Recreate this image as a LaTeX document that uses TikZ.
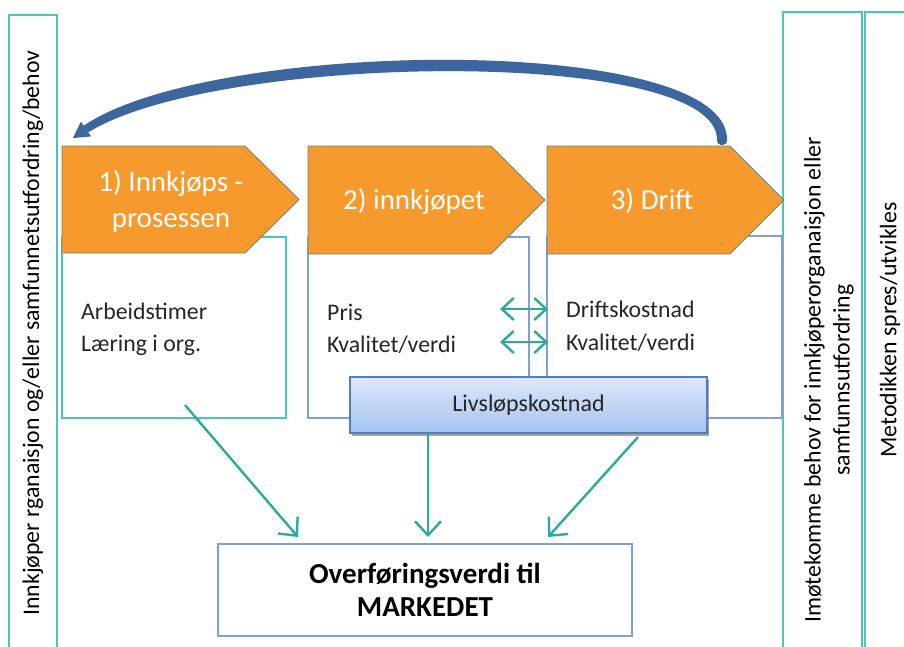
\documentclass[tikz,border=0pt]{standalone}
\usepackage{fontspec}
\setmainfont{Carlito}
\usetikzlibrary{arrows.meta,shadows}
\definecolor{chevor}{HTML}{F69A2E}
\definecolor{chevln}{HTML}{5E8A8C}
\definecolor{tealb}{HTML}{4CC3BE}
\definecolor{blueb}{HTML}{7EA0D4}
\definecolor{arrt}{HTML}{2BAA9E}
\definecolor{lvtop}{HTML}{DDE8FA}
\definecolor{lvbot}{HTML}{A6C3F2}
\definecolor{lvln}{HTML}{4F7FBF}
\definecolor{curv}{HTML}{3C669E}
\tikzset{
  tealbox/.style={draw=tealb,line width=1.3pt},
  bluebox/.style={draw=blueb,line width=1.2pt},
  chev/.style={fill=chevor,draw=chevln,line width=0.9pt},
  chevtxt/.style={text=white,font=\fontsize{29}{36}\selectfont,align=center},
  bodytxt/.style={text=black!85,font=\fontsize{23.8}{28}\selectfont,anchor=west,inner sep=0pt},
  sidetxt/.style={text=black,font=\fontsize{23.8}{29}\selectfont,align=center,rotate=90},
  tarrow/.style={draw=arrt,line width=2.4pt,-{Straight Barb[length=14pt,width=26pt,line width=2.4pt]}},
  darrow/.style={draw=arrt,line width=2.4pt,{Straight Barb[length=12pt,width=22pt,line width=2.4pt]}-{Straight Barb[length=12pt,width=22pt,line width=2.4pt]}}
}
\begin{document}
\begin{tikzpicture}[x=1pt,y=-1pt]
\useasboundingbox (0,0) rectangle (904,646);
% side columns
\draw[tealbox] (9,15) rectangle (57,652);
\draw[tealbox] (783,12) rectangle (862,652);
\draw[tealbox] (865,12) rectangle (912,652);
\node[sidetxt] (lefttxt) at (33,333) {Innkjøper rganaisjon og/eller samfunnetsutfordring/behov};
\node[sidetxt] (righttxt) at (829,380) {Imøtekomme behov for innkjøperorganaisjon eller\\samfunnsutfordring};
\node[sidetxt] (metotxt) at (890,330) {Metodikken spres/utvikles};
% content boxes
\draw[tealbox,fill=white] (62,237) rectangle (286,418);
\draw[bluebox,fill=white] (308,237) rectangle (529,418);
\draw[bluebox,fill=white] (547,236) rectangle (782,418);
% chevrons
\draw[chev] (62,146) -- (245,146) -- (299,199.5) -- (245,253) -- (62,253) -- cycle;
\draw[chev] (308,146) -- (491,146) -- (545,200) -- (491,254) -- (308,254) -- cycle;
\draw[chev] (547,146) -- (730,146) -- (784,200) -- (730,254) -- (547,254) -- cycle;
\node[chevtxt] (c1) at (171,201) {1) Innkjøps -\\prosessen};
\node[chevtxt] (c2) at (414,201) {2) innkjøpet};
\node[chevtxt] (c3) at (652,201) {3) Drift};
% texts
\node[bodytxt] (t11) at (81,311) {Arbeidstimer};
\node[bodytxt] (t12) at (81,345) {Læring i org.};
\node[bodytxt] (t21) at (327,312) {Pris};
\node[bodytxt] (t22) at (327,345) {Kvalitet/verdi};
\node[bodytxt] (t31) at (566,309) {Driftskostnad};
\node[bodytxt] (t32) at (566,343) {Kvalitet/verdi};
% double arrows
\coordinate (d1a) at (500,309); \coordinate (d1b) at (548,309);
\coordinate (d2a) at (500,342); \coordinate (d2b) at (548,342);
\draw[darrow] (d1a) -- (d1b);
\draw[darrow] (d2a) -- (d2b);
% Livslopskostnad
\node[draw=lvln,line width=1.5pt,top color=lvtop,bottom color=lvbot,
  minimum width=357pt,minimum height=56pt,inner sep=0pt,
  font=\fontsize{24}{28}\selectfont,text=black!85,
  drop shadow={shadow xshift=1.5pt,shadow yshift=-3pt,fill=black!45,opacity=0.8}]
  (lv) at (528.5,405) {Livsløpskostnad};
% target box
\node[bluebox,fill=white,minimum width=414pt,minimum height=92pt,align=center,
  font=\bfseries\fontsize{29}{33}\selectfont,text=black] (ov) at (425,590)
  {Overføringsverdi til\\MARKEDET};
% arrows to target
\coordinate (s1) at (185,405);
\coordinate (e1) at (298,537);
\coordinate (s2) at (lv.south -| 428,0);
\coordinate (e2) at (428,537);
\coordinate (s3) at (638,437);
\coordinate (e3) at (548,537);
\draw[tarrow] (s1) -- (e1);
\draw[tarrow] (s2) -- (e2);
\draw[tarrow] (s3) -- (e3);
% curved feedback arrow (tapered body)
\coordinate (cs) at (722,143);
\coordinate (ce) at (72.9,138.1);
\fill[curv] (727,140) .. controls (729,33) and (212,38) .. (83.7,125.7)
  -- (88.3,132.3) .. controls (218,52) and (719,47) .. (717,140)
  .. controls (717,147) and (727,147) .. (727,140) -- cycle;
\fill[curv] (80.9,121.6) -- (91.1,136.4) -- (ce) -- cycle;
\end{tikzpicture}
\end{document}
